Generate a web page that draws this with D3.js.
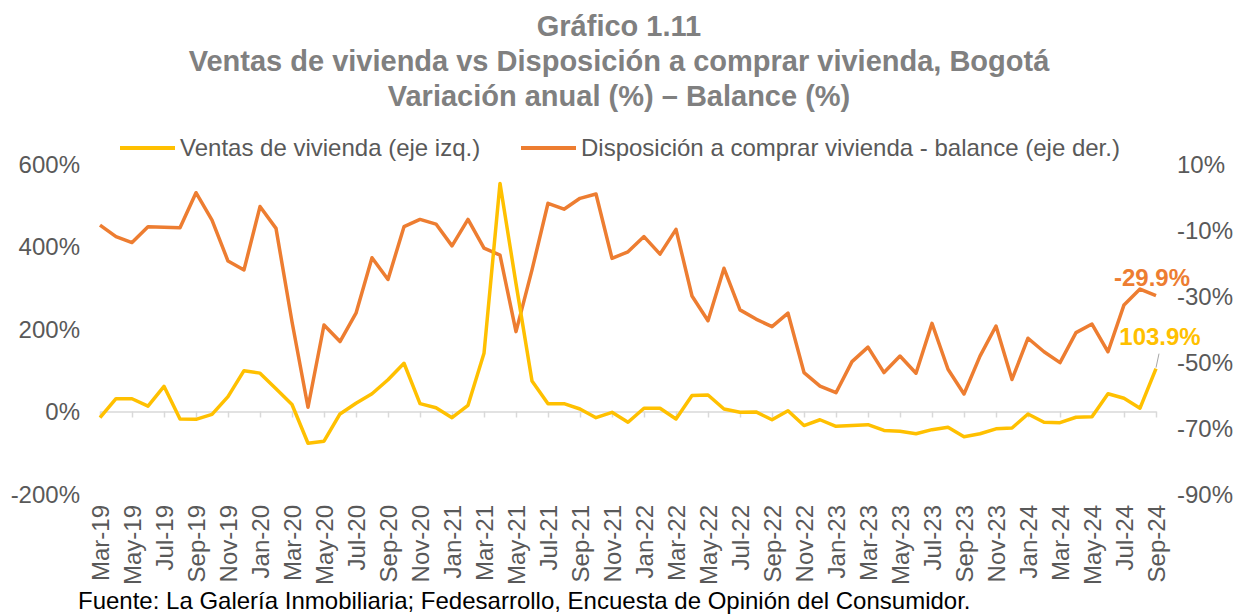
<!DOCTYPE html>
<html lang="es">
<head>
<meta charset="UTF-8">
<script src="https://d3js.org/d3.v7.min.js"></script>
<style>
  body { margin: 0; background: #fff; }
  text { font-family: "Liberation Sans", Arial, sans-serif; }
</style>
</head>
<body>
<svg id="chart" width="1236" height="616"></svg>
<script>
var width = 1236, height = 616;

// months Mar-19 .. Sep-24
var monthNames = ["Jan","Feb","Mar","Apr","May","Jun","Jul","Aug","Sep","Oct","Nov","Dec"];
var months = [];
for (var y = 2019; y <= 2024; y++) {
  for (var m = 0; m < 12; m++) {
    if (y == 2019 && m < 2) continue;
    if (y == 2024 && m > 8) continue;
    months.push(monthNames[m] + "-" + String(y).slice(2));
  }
}

// Ventas de vivienda, variación anual (%), eje izq.
var ventas = [-15, 31, 31, 13, 61, -18, -19, -7, 36, 99, 93, 55,
  17, -77, -72, -6, 20, 43, 77, 117, 19, 9, -15, 15,
  141, 553, 310, 74, 19, 19, 6, -15, -2, -26, 8, 8,
  -18, 39, 40, 6, -2, -1, -20, 2, -34, -20, -36, -34,
  -32, -46, -48, -54, -44, -38, -61, -54, -42, -40, -6, -26,
  -27, -14, -13, 43, 32, 8, 103.9];

// Disposición a comprar vivienda, balance (%), eje der.
var disposicion = [-8.5, -12.0, -13.8, -9.0, -9.2, -9.3, 1.3, -7.0, -19.4, -22.1, -2.9, -9.5,
  -37.8, -63.7, -38.8, -43.8, -35.2, -18.4, -25.0, -9.0, -6.8, -8.2, -14.8, -6.8,
  -15.5, -17.6, -40.8, -22.1, -1.9, -3.7, -0.4, 0.9, -18.6, -16.6, -12.0, -17.3,
  -9.8, -30.0, -37.5, -21.6, -34.2, -37.0, -39.3, -35.2, -53.2, -57.3, -59.3, -49.9,
  -45.5, -53.2, -48.2, -53.4, -38.3, -52.2, -59.7, -48.2, -39.1, -55.3, -42.8, -46.9,
  -50.2, -41.1, -38.5, -46.9, -32.7, -27.9, -29.9];

var leftTicks = [-200, 0, 200, 400, 600];
var rightTicks = [-90, -70, -50, -30, -10, 10];

var yellow = "#FFC000", orange = "#ED7D31", grey = "#595959";

var svg = d3.select("#chart");

var x = d3.scalePoint().domain(months).range([100, 1156]);
var yL = d3.scaleLinear().domain([-200, 600]).range([494, 164]);
var yR = d3.scaleLinear().domain([-90, 10]).range([494, 164]);

// titles
var titles = ["Gráfico 1.11", "Ventas de vivienda vs Disposición a comprar vivienda, Bogotá", "Variación anual (%) – Balance (%)"];
svg.selectAll(".title").data(titles).join("text")
  .attr("class", "title")
  .attr("x", 619).attr("y", function(d, i) { return 36 + i * 35; })
  .attr("text-anchor", "middle")
  .style("font-size", "29px").style("font-weight", "bold")
  .style("fill", "#808080")
  .text(function(d) { return d; });

// legend
var legend = [{name: "Ventas de vivienda (eje izq.)", color: yellow, x: 120},
              {name: "Disposición a comprar vivienda - balance (eje der.)", color: orange, x: 521}];
var lg = svg.selectAll(".lg").data(legend).join("g").attr("class", "lg");
lg.append("line")
  .attr("x1", function(d) { return d.x; }).attr("x2", function(d) { return d.x + 55; })
  .attr("y1", 148).attr("y2", 148)
  .attr("stroke", function(d) { return d.color; }).attr("stroke-width", 4);
lg.append("text")
  .attr("x", function(d) { return d.x + 60; }).attr("y", 156)
  .style("font-size", "24px").style("fill", grey)
  .text(function(d) { return d.name; });

// left axis labels
svg.append("g").selectAll("text").data(leftTicks).join("text")
  .attr("x", 80).attr("y", function(d) { return yL(d) + 8.5; })
  .attr("text-anchor", "end")
  .style("font-size", "24px").style("fill", grey)
  .text(function(d) { return d + "%"; });

// right axis labels
svg.append("g").selectAll("text").data(rightTicks).join("text")
  .attr("x", 1177).attr("y", function(d) { return yR(d) + 8.5; })
  .style("font-size", "24px").style("fill", grey)
  .text(function(d) { return d + "%"; });

// category axis at 0%
var xAxis = d3.axisBottom(x)
  .tickValues(months.filter(function(d, i) { return i % 2 == 0; }))
  .tickSize(6).tickSizeOuter(0).tickPadding(8);
var ax = svg.append("g").attr("transform", "translate(0," + yL(0) + ")").call(xAxis);
ax.select(".domain").attr("stroke", "#d9d9d9").attr("stroke-width", 1.5);
ax.selectAll(".tick line").attr("stroke", "#d9d9d9").attr("stroke-width", 1.5);
ax.selectAll(".tick text").remove();

// rotated month labels at the bottom
svg.append("g").selectAll("text")
  .data(months.filter(function(d, i) { return i % 2 == 0; }))
  .join("text")
  .attr("transform", function(d) { return "translate(" + (x(d) + 8.5) + ",505) rotate(-90)"; })
  .attr("text-anchor", "end")
  .style("font-size", "24px").style("fill", grey)
  .text(function(d) { return d; });

// lines
var lineL = d3.line().x(function(d, i) { return x(months[i]); }).y(function(d) { return yL(d); });
var lineR = d3.line().x(function(d, i) { return x(months[i]); }).y(function(d) { return yR(d); });

svg.append("path").datum(disposicion)
  .attr("d", lineR).attr("fill", "none")
  .attr("stroke", orange).attr("stroke-width", 3.5).attr("stroke-linejoin", "round");

svg.append("path").datum(ventas)
  .attr("d", lineL).attr("fill", "none")
  .attr("stroke", yellow).attr("stroke-width", 3.5).attr("stroke-linejoin", "round");

// end labels
var last = months.length - 1;
svg.append("line")
  .attr("x1", x(months[last])).attr("y1", yL(ventas[last]) - 1)
  .attr("x2", x(months[last]) + 3).attr("y2", yL(ventas[last]) - 15)
  .attr("stroke", "#a6a6a6").attr("stroke-width", 1);

svg.append("text")
  .attr("x", x(months[last]) + 4).attr("y", yL(ventas[last]) - 24)
  .attr("text-anchor", "middle")
  .style("font-size", "24px").style("font-weight", "bold").style("fill", yellow)
  .text(ventas[last].toFixed(1) + "%");

svg.append("text")
  .attr("x", x(months[last]) - 4).attr("y", yR(disposicion[last]) - 10)
  .attr("text-anchor", "middle")
  .style("font-size", "24px").style("font-weight", "bold").style("fill", orange)
  .text(disposicion[last].toFixed(1) + "%");

// source
svg.append("text")
  .attr("x", 78).attr("y", 609)
  .style("font-size", "24px").style("fill", "#000")
  .text("Fuente: La Galería Inmobiliaria; Fedesarrollo, Encuesta de Opinión del Consumidor.");
</script>
</body>
</html>
